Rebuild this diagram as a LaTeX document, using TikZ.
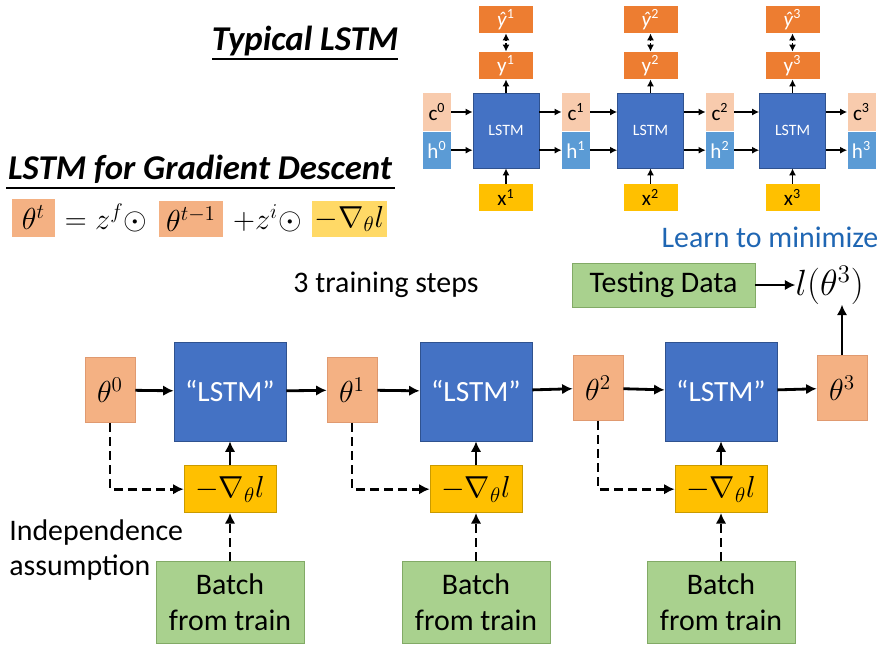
\documentclass[tikz,border=0pt]{standalone}
\usepackage{fontspec}
\setmainfont{Carlito}
\usepackage{xcolor}
\usepackage{tikz}
\usetikzlibrary{arrows.meta,positioning}
\definecolor{thfill}{HTML}{F4B183}
\definecolor{thline}{HTML}{E09A70}
\definecolor{cfill}{HTML}{F8CBAD}
\definecolor{hfill}{HTML}{5B9BD5}
\definecolor{lstmblue}{HTML}{4472C4}
\definecolor{lstmline}{HTML}{2F528F}
\definecolor{yorange}{HTML}{ED7D31}
\definecolor{gold}{HTML}{FFC000}
\definecolor{goldline}{HTML}{C99A00}
\definecolor{lightgold}{HTML}{FFD966}
\definecolor{boxgreen}{HTML}{A9D18E}
\definecolor{greenline}{HTML}{82AA66}
\definecolor{learnblue}{HTML}{1F66B3}
\begin{document}
\begin{tikzpicture}[x=0.02cm,y=-0.02cm,inner sep=0pt,
  tiny/.style={font=\fontsize{12}{14}\selectfont},
  cbox/.style={tiny,fill=cfill,minimum width=0.56cm,minimum height=0.76cm},
  hbox/.style={tiny,fill=hfill,text=white,minimum width=0.56cm,minimum height=0.74cm},
  cell/.style={fill=lstmblue,draw=lstmline,text=white,minimum width=1.32cm,minimum height=1.5cm,font=\fontsize{9}{11}\selectfont},
  ybox/.style={tiny,fill=yorange,text=white,minimum width=1.08cm,minimum height=0.54cm},
  xbox/.style={tiny,fill=gold,minimum width=1.08cm,minimum height=0.54cm},
  thbox/.style={fill=thfill,draw=thline,minimum width=1cm,minimum height=1.3cm,font=\fontsize{18}{21}\selectfont},
  bigcell/.style={fill=lstmblue,draw=lstmline,text=white,minimum width=2.24cm,minimum height=1.98cm,font=\fontsize{16.7}{19}\selectfont},
  gradbox/.style={fill=gold,draw=goldline,minimum width=1.84cm,minimum height=0.94cm,font=\fontsize{17}{20}\selectfont},
  batchbox/.style={fill=boxgreen,draw=greenline,minimum width=2.96cm,minimum height=1.64cm,align=center,font=\fontsize{17}{20.4}\selectfont},
  txt/.style={font=\fontsize{17}{20.4}\selectfont},
  arr/.style={-{Latex[length=6pt,width=6pt]},line width=1.6pt},
  sarr/.style={-{Latex[length=4pt,width=4pt]},line width=1.1pt},
  darr/.style={arr,dashed,dash pattern=on 5pt off 3pt}]
\useasboundingbox (0,0) rectangle (884,648);
% titles
\node[font=\fontsize{19.8}{22}\selectfont\bfseries\itshape,inner sep=2pt] (ttl) at (305,41) {Typical LSTM};
\draw[line width=0.9pt] (212,59) -- (398,59);
\node[font=\fontsize{19.8}{22}\selectfont\bfseries\itshape,inner sep=2pt] (gdtl) at (200,169) {LSTM for Gradient Descent};
\draw[line width=0.9pt] (6,188) -- (395,188);
% formula
\node[thbox,minimum width=0.86cm,minimum height=0.76cm,draw=none] (ft) at (33.5,218) {$\theta^t$};
\node[thbox,minimum width=1.28cm,minimum height=0.72cm,draw=none] (fb) at (191,219) {$\theta^{t-1}$};
\node[gradbox,fill=lightgold,draw=none,minimum width=1.5cm,minimum height=0.72cm] (fd) at (349.5,219) {$-\nabla_{\theta}l$};
\node[font=\fontsize{18}{21}\selectfont] (fa) at (106,218) {$=z^f\odot$};
\node[font=\fontsize{18}{21}\selectfont] (fc) at (267.5,218) {$+z^i\odot$};
% typical lstm
\node[cbox] (c0) at (437,112) {c\textsuperscript{0}};
\node[hbox,below=0pt of c0] (h0) {h\textsuperscript{0}};
\node[cell] (t1) at (506,130.5) {LSTM};
\node[cbox] (c1) at (576,112) {c\textsuperscript{1}};
\node[hbox,below=0pt of c1] (h1) {h\textsuperscript{1}};
\node[cell] (t2) at (650.5,130.5) {LSTM};
\node[cbox] (c2) at (720,112) {c\textsuperscript{2}};
\node[hbox,below=0pt of c2] (h2) {h\textsuperscript{2}};
\node[cell] (t3) at (792.5,130.5) {LSTM};
\node[cbox] (c3) at (861.5,112) {c\textsuperscript{3}};
\node[hbox,below=0pt of c3] (h3) {h\textsuperscript{3}};
\node[ybox] (y1) at (506,65.5) {y\textsuperscript{1}};
\node[ybox] (yh1) at (506,19.5) {\textit{ŷ}\textsuperscript{1}};
\node[xbox] (x1) at (506,197.5) {x\textsuperscript{1}};
\node[ybox] (y2) at (650.5,65.5) {y\textsuperscript{2}};
\node[ybox] (yh2) at (650.5,19.5) {\textit{ŷ}\textsuperscript{2}};
\node[xbox] (x2) at (650.5,197.5) {x\textsuperscript{2}};
\node[ybox] (y3) at (792.5,65.5) {y\textsuperscript{3}};
\node[ybox] (yh3) at (792.5,19.5) {\textit{ŷ}\textsuperscript{3}};
\node[xbox] (x3) at (792.5,197.5) {x\textsuperscript{3}};
\draw[sarr] (c0.east) -- (c0.east -| t1.west);
\draw[sarr] (h0.east) -- (h0.east -| t1.west);
\draw[sarr] (t1.east |- c1) -- (c1.west);
\draw[sarr] (t1.east |- h1) -- (h1.west);
\draw[sarr] (c1.east) -- (c1.east -| t2.west);
\draw[sarr] (h1.east) -- (h1.east -| t2.west);
\draw[sarr] (t2.east |- c2) -- (c2.west);
\draw[sarr] (t2.east |- h2) -- (h2.west);
\draw[sarr] (c2.east) -- (c2.east -| t3.west);
\draw[sarr] (h2.east) -- (h2.east -| t3.west);
\draw[sarr] (t3.east |- c3) -- (c3.west);
\draw[sarr] (t3.east |- h3) -- (h3.west);
\draw[sarr] (t1) -- (y1);
\draw[sarr] (x1) -- (t1);
\draw[sarr,{Latex[length=4pt,width=4pt]}-{Latex[length=4pt,width=4pt]},dotted] (y1) -- (yh1);
\draw[sarr] (t2) -- (y2);
\draw[sarr] (x2) -- (t2);
\draw[sarr,{Latex[length=4pt,width=4pt]}-{Latex[length=4pt,width=4pt]},dotted] (y2) -- (yh2);
\draw[sarr] (t3) -- (y3);
\draw[sarr] (x3) -- (t3);
\draw[sarr,{Latex[length=4pt,width=4pt]}-{Latex[length=4pt,width=4pt]},dotted] (y3) -- (yh3);
% training steps
\node[txt,text=learnblue] (learn) at (770,237) {Learn to minimize};
\node[txt] (steps) at (386,285) {3 training steps};
\node[batchbox,minimum width=3.66cm,minimum height=0.88cm] (test) at (663.5,285) {Testing Data};
\node[font=\fontsize{20}{23}\selectfont,right=0.8cm of test] (loss) {$l(\theta^3)$};
\draw[arr,line width=1.2pt] (test) -- (loss);
\node[thbox] (th0) at (110,390) {$\theta^0$};
\node[bigcell] (L1) at (230,391.5) {“LSTM”};
\node[thbox] (th1) at (352,390) {$\theta^1$};
\node[bigcell] (L2) at (476,391.5) {“LSTM”};
\node[thbox] (th2) at (598,388) {$\theta^2$};
\node[bigcell] (L3) at (721,391.5) {“LSTM”};
\node[thbox] (th3) at (842,388) {$\theta^3$};
\node[gradbox,below=0.48cm of L1] (g1) {$-\nabla_{\theta}l$};
\node[gradbox,below=0.48cm of L2] (g2) {$-\nabla_{\theta}l$};
\node[gradbox,below=0.48cm of L3] (g3) {$-\nabla_{\theta}l$};
\node[batchbox,below=0.96cm of g1] (b1) {Batch\\from train};
\node[batchbox,below=0.96cm of g2] (b2) {Batch\\from train};
\node[batchbox,below=0.96cm of g3] (b3) {Batch\\from train};
\draw[arr] (th0) -- (L1);
\draw[arr] (L1) -- (th1);
\draw[arr] (th1) -- (L2);
\draw[arr] (L2) -- (th2);
\draw[arr] (th2) -- (L3);
\draw[arr] (L3) -- (th3);
\draw[arr] (g1) -- (L1);
\draw[arr] (g2) -- (L2);
\draw[arr] (g3) -- (L3);
\draw[darr] (b1) -- (g1);
\draw[darr] (b2) -- (g2);
\draw[darr] (b3) -- (g3);
\draw[darr] (th0.south) |- (g1.west);
\draw[darr] (th1.south) |- (g2.west);
\draw[darr] (th2.south) |- (g3.west);
\draw[arr] (th3.north) -- (th3.north |- loss.south);
\node[txt,align=left,anchor=north west] (indep) at (9,519) {Independence\\assumption};
\end{tikzpicture}
\end{document}
